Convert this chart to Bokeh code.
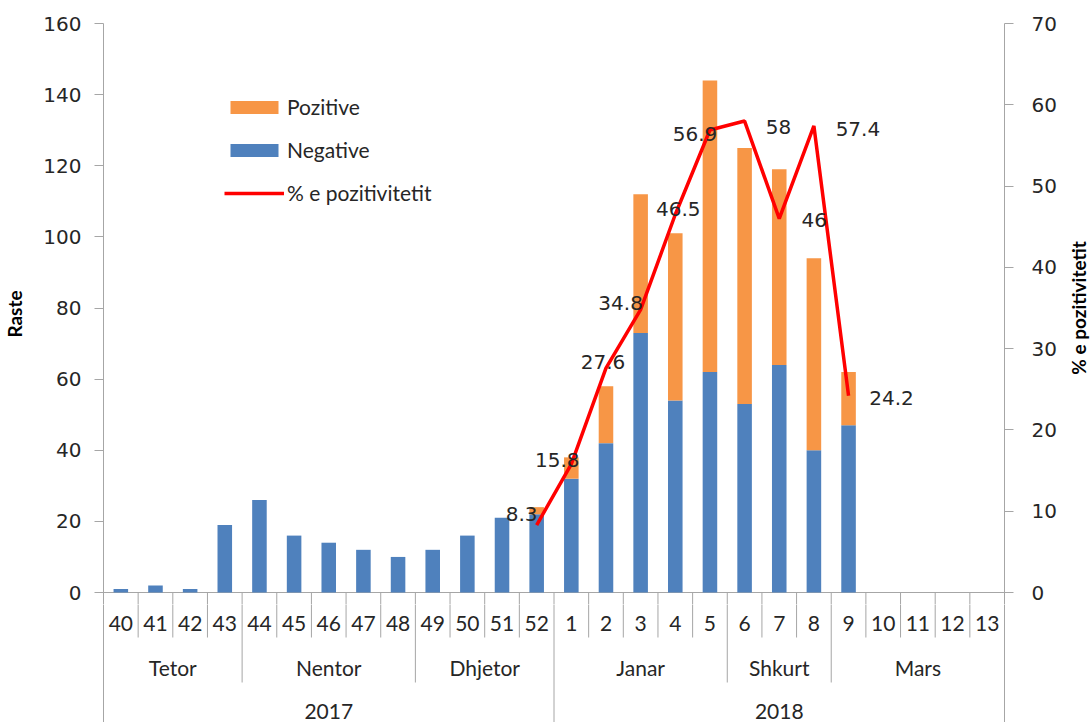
import math
from bokeh.plotting import figure
from bokeh.layouts import column, row
from bokeh.models import (Range1d, LinearAxis, FixedTicker, ColumnDataSource, Legend,
                          LegendItem)
from bokeh.core.properties import value
from bokeh.embed import file_html
from bokeh.resources import INLINE

# ---------------- data ----------------
weeks = ["40", "41", "42", "43", "44", "45", "46", "47", "48", "49", "50", "51", "52",
         "1", "2", "3", "4", "5", "6", "7", "8", "9", "10", "11", "12", "13"]
negative = [1, 2, 1, 19, 26, 16, 14, 12, 10, 12, 16, 21, 22,
            32, 42, 73, 54, 62, 53, 64, 40, 47, 0, 0, 0, 0]
positive = [0, 0, 0, 0, 0, 0, 0, 0, 0, 0, 0, 0, 2,
            6, 16, 39, 47, 82, 72, 55, 54, 15, 0, 0, 0, 0]
pct_weeks = ["52", "1", "2", "3", "4", "5", "6", "7", "8", "9"]
pct_values = [8.3, 15.8, 27.6, 34.8, 46.5, 56.9, 58, 46, 57.4, 24.2]
months = ["Tetor", "Nentor", "Dhjetor", "Janar", "Shkurt", "Mars"]
month_weeks = [4, 5, 4, 5, 3, 5]
years = ["2017", "2018"]
year_weeks = [13, 13]
left_ticks = [0, 20, 40, 60, 80, 100, 120, 140, 160]
right_ticks = [0, 10, 20, 30, 40, 50, 60, 70]
left_title = "Raste"
right_title = "% e pozitivitetit"

# ------------- label styling (screen-pixel offsets of data labels) -------------
label_dx = [-15, -14, -3, -20, 3, -15, 34, 35, 44, 43]
label_dy = [-11, -4, -6, -7, -6, 4, 6, 1, 3, 2]

# ---------------- layout (pixels) ----------------
W_TOTAL = 1091
W = 1060                   # width of chart + table figures
FR_LEFT, FR_RIGHT = 102, 1004
FR_TOP, ZERO_Y = 23, 592
H_TOTAL = 722
H1 = 604                   # chart part ends a little under the zero line
H2 = H_TOTAL - H1          # category table part
k_left = (ZERO_Y - FR_TOP) / 160.0
k_right = (ZERO_Y - FR_TOP) / 70.0
y_start = -(H1 - ZERO_Y) / k_left
y2_start = -(H1 - ZERO_Y) / k_right

GRID = "#A6A6A6"
TXT = "#262626"
BLUE = "#4F81BD"
ORANGE = "#F79646"
RED = "#FF0000"
NUM_FONT = "DejaVu Sans"
CAT_FONT = "Lato"

n = len(weeks)
xs = [i + 0.5 for i in range(n)]
xr = Range1d(0, n)

p = figure(width=W, height=H1, output_backend="svg", toolbar_location=None,
           x_range=xr, y_range=Range1d(y_start, 160), x_axis_location=None,
           min_border_left=FR_LEFT, min_border_right=W - FR_RIGHT,
           min_border_top=FR_TOP, min_border_bottom=0)
p.outline_line_color = None
p.xgrid.visible = False
p.ygrid.visible = False
p.extra_y_ranges = {"pct": Range1d(y2_start, 70)}


def style_axis(ax):
    ax.minor_tick_line_color = None
    ax.major_tick_in = 0
    ax.major_tick_out = 9
    ax.axis_line_color = GRID
    ax.major_tick_line_color = GRID
    ax.major_label_text_font = NUM_FONT
    ax.major_label_text_font_size = "20px"
    ax.major_label_text_color = TXT
    ax.axis_label_text_font = CAT_FONT
    ax.axis_label_text_font_style = "bold"
    ax.axis_label_text_font_size = "19px"
    ax.axis_label_text_color = "black"


ya = p.yaxis[0]
ya.ticker = FixedTicker(ticks=left_ticks)
style_axis(ya)
ya.major_label_standoff = 13
ya.axis_label = left_title
ya.axis_label_standoff = 14

ra = LinearAxis(y_range_name="pct", ticker=FixedTicker(ticks=right_ticks))
style_axis(ra)
ra.major_label_standoff = 18
p.add_layout(ra, "right")

# x axis base line and the tops of the week separators
p.segment(x0=[0], y0=[0], x1=[n], y1=[0], line_color=GRID, line_width=1)
inner = list(range(1, n))
p.segment(x0=inner, y0=[0] * len(inner), x1=inner, y1=[y_start * 2] * len(inner),
          line_color=GRID, line_width=1)

# bars
src = ColumnDataSource(dict(x=xs, neg=negative, pos=positive))
bars = p.vbar_stack(["neg", "pos"], x="x", width=0.42, source=src,
                    color=[BLUE, ORANGE], line_color=None)

# percentage line + labels
idx = {w: i for i, w in enumerate(weeks)}
lsrc = ColumnDataSource(dict(x=[idx[w] + 0.5 for w in pct_weeks], y=pct_values,
                             t=[("%g" % v) for v in pct_values],
                             dx=label_dx, dy=label_dy))
line = p.line("x", "y", source=lsrc, y_range_name="pct", line_color=RED,
              line_width=3.5)
p.text("x", "y", text="t", source=lsrc, y_range_name="pct", x_offset="dx",
       y_offset="dy", text_align="center", text_baseline="middle",
       text_font=value(NUM_FONT), text_font_size="20px", text_color=TXT)

legend = Legend(items=[LegendItem(label="Pozitive", renderers=[bars[1]]),
                       LegendItem(label="Negative", renderers=[bars[0]]),
                       LegendItem(label="% e pozitivitetit", renderers=[line])],
                location=(121, H1 - 205), orientation="vertical",
                glyph_width=60, glyph_height=16, label_height=24,
                spacing=18, padding=0, margin=0, label_standoff=3,
                border_line_color=None, background_fill_alpha=0,
                label_text_font=CAT_FONT, label_text_font_size="21px",
                label_text_color=TXT)
p.add_layout(legend, "center")

# ---------------- category table (second figure, y in pixels downward) ----------------
q = figure(width=W, height=H2, output_backend="svg", toolbar_location=None,
           x_range=xr, y_range=Range1d(-H2, 0), x_axis_location=None,
           y_axis_location=None,
           min_border_left=FR_LEFT, min_border_right=W - FR_RIGHT,
           min_border_top=0, min_border_bottom=0)
q.outline_line_color = None
q.xgrid.visible = False
q.ygrid.visible = False
for side in ("left", "right"):
    ax = LinearAxis(ticker=FixedTicker(ticks=[]))
    ax.axis_line_color = GRID
    ax.major_tick_line_color = None
    ax.minor_tick_line_color = None
    ax.major_label_text_font_size = "0px"
    q.add_layout(ax, side)


def ty(page_y):
    return -(page_y - H1)


month_bounds, b = set(), 0
for c in month_weeks:
    b += c
    month_bounds.add(b)
year_bounds, b = set(), 0
for c in year_weeks:
    b += c
    year_bounds.add(b)
sep_y1 = []
for i in inner:
    if i in year_bounds:
        sep_y1.append(-H2)
    elif i in month_bounds:
        sep_y1.append(ty(682))
    else:
        sep_y1.append(ty(637))
q.segment(x0=inner, y0=[1] * len(inner), x1=inner, y1=sep_y1,
          line_color=GRID, line_width=1)

q.text(x=xs, y=[ty(623)] * n, text=weeks, text_align="center",
       text_baseline="middle", text_font=value(CAT_FONT), text_font_size="21px",
       text_color=TXT)
mx, b = [], 0
for c in month_weeks:
    mx.append(b + c / 2.0)
    b += c
q.text(x=mx, y=[ty(667)] * len(months), text=months, text_align="center",
       text_baseline="middle", text_font=value(CAT_FONT), text_font_size="21px",
       text_color=TXT)
yx, b = [], 0
for c in year_weeks:
    yx.append(b + c / 2.0)
    b += c
q.text(x=yx, y=[ty(711)] * len(years), text=years, text_align="center",
       text_baseline="middle", text_font=value(CAT_FONT), text_font_size="21px",
       text_color=TXT)

# ---------------- right-hand title strip (coordinates in page pixels) ----------------
r = figure(width=W_TOTAL - W, height=H_TOTAL, output_backend="svg",
           toolbar_location=None, x_range=Range1d(W, W_TOTAL),
           y_range=Range1d(-H_TOTAL, 0), x_axis_location=None, y_axis_location=None,
           min_border=0)
r.outline_line_color = None
r.xgrid.visible = False
r.ygrid.visible = False
r.text(x=[1078], y=[-(FR_TOP + ZERO_Y) / 2.0], text=[right_title],
       angle=math.pi / 2, text_align="center", text_baseline="middle",
       text_font=value(CAT_FONT), text_font_style="bold", text_font_size="19px",
       text_color="black")

layout = row(column(p, q, spacing=0), r, spacing=0)
open("out.html", "w").write(file_html(layout, INLINE))
